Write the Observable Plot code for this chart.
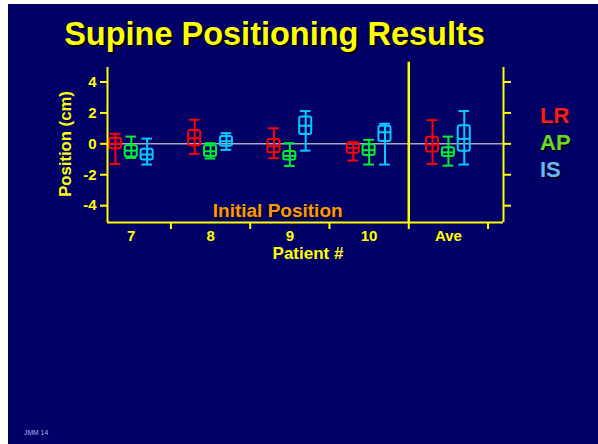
<!DOCTYPE html>
<html><head><meta charset="utf-8">
<script src="https://cdn.jsdelivr.net/npm/d3@7"></script>
<script src="https://cdn.jsdelivr.net/npm/@observablehq/plot@0.6"></script>
<style>
html,body{margin:0;padding:0;background:#fff;}
#page{position:relative;width:598px;height:444px;overflow:hidden;background:#fff;font-family:"Liberation Sans",Arial,sans-serif;}
#bg{position:absolute;left:8px;top:4px;right:0;bottom:0;background:#000066;}
#chart{position:absolute;left:0;top:0;}
.t{position:absolute;white-space:nowrap;line-height:1;font-weight:bold;}
#title{left:274.5px;top:17.5px;font-size:32.5px;color:#ffff00;transform:translateX(-50%);text-shadow:2px 2px 0 #000000;}
#initial{left:277.7px;top:201.4px;font-size:19px;color:#ff9900;transform:translateX(-50%);text-shadow:1.5px 1.5px 0 #000022;}
#xlabel{left:308px;top:244.9px;font-size:17px;color:#ffff00;transform:translateX(-50%);}
.leg{left:540px;font-size:22px;text-shadow:1.5px 1.5px 0 #000022;}
#jmm{left:24px;top:430.2px;font-size:6.8px;font-weight:normal;color:#aab0ee;}
</style></head><body>
<div id="page">
<div id="bg"></div>
<div id="chart"></div>
<div class="t" id="title">Supine Positioning Results</div>
<div class="t" id="initial">Initial Position</div>
<div class="t" id="xlabel">Patient #</div>
<div class="t leg" id="leg0"></div>
<div class="t leg" id="leg1"></div>
<div class="t leg" id="leg2"></div>
<div class="t" id="jmm">JMM 14</div>
</div>
<script>
// Categories and series
const patients = ["7", "8", "9", "10", "Ave"];
const series = ["LR", "AP", "IS"];
const seriesColors = ["#ff0000", "#00ee33", "#00ccff"];
const legendColors = ["#ff1a1a", "#66dd22", "#66bbee"];
const yTicks = [-4, -2, 0, 2, 4];

// [whisker low, Q1, median, Q3, whisker high] per patient, in cm
const LR = [
  [-1.30, -0.32, 0.02, 0.36, 0.65],
  [-0.65, -0.13, 0.36, 0.86, 1.56],
  [-0.93, -0.58, -0.15, 0.28, 1.01],
  [-1.08, -0.61, -0.26, 0.04, 0.10],
  [-1.30, -0.52, -0.05, 0.43, 1.53]
];
const AP = [
  [-0.91, -0.85, -0.44, -0.13, 0.47],
  [-0.95, -0.82, -0.48, -0.13, 0.04],
  [-1.43, -1.04, -0.78, -0.50, 0.04],
  [-1.34, -0.76, -0.41, -0.06, 0.26],
  [-1.41, -0.82, -0.55, -0.26, 0.47]
];
const IS = [
  [-1.34, -1.04, -0.69, -0.35, 0.34],
  [-0.39, -0.15, 0.17, 0.47, 0.69],
  [-0.44, 0.60, 1.17, 1.73, 2.12],
  [-1.34, 0.15, 0.75, 1.14, 1.30],
  [-1.34, -0.48, 0.32, 1.17, 2.12]
];

const rows = [];
[LR, AP, IS].forEach((arr, s) => arr.forEach((v, i) => rows.push({
  series: series[s], s, i, lo: v[0], q1: v[1], med: v[2], q3: v[3], hi: v[4]
})));

const off = d => d.i + (d.s - 1) * 0.2;
const bw = 0.076, cw = 0.0675;
const X0 = -0.3, X1 = 4.695, Y0 = -5.09, Y1 = 4.94;
const yellow = "#ffff00";

const chart = Plot.plot({
  width: 598, height: 444,
  marginLeft: 107, marginRight: 95, marginTop: 67, marginBottom: 222,
  x: {domain: [X0, X1], axis: null},
  y: {domain: [Y0, Y1], axis: null},
  color: {type: "ordinal", domain: series, range: seriesColors},
  style: {background: "transparent", color: yellow, fontFamily: "'Liberation Sans', Arial, sans-serif", overflow: "visible"},
  marks: [
    Plot.ruleY([0], {stroke: "#ffffdd", strokeWidth: 1}),
    Plot.ruleX(rows, {x: off, y1: "lo", y2: "hi", stroke: "series", strokeWidth: 2}),
    Plot.ruleY(rows, {y: "lo", x1: d => off(d) - cw, x2: d => off(d) + cw, stroke: "series", strokeWidth: 2}),
    Plot.ruleY(rows, {y: "hi", x1: d => off(d) - cw, x2: d => off(d) + cw, stroke: "series", strokeWidth: 2}),
    Plot.rect(rows, {x1: d => off(d) - bw, x2: d => off(d) + bw, y1: "q1", y2: "q3", stroke: "series", fill: "none", strokeWidth: 2, rx: 2}),
    Plot.ruleY(rows, {y: "med", x1: d => off(d) - bw, x2: d => off(d) + bw, stroke: "series", strokeWidth: 2}),
    Plot.axisY(yTicks, {tickSize: 7, tickPadding: 4, tickFormat: d => String(d), fontSize: 15, fontWeight: "bold", strokeWidth: 2, label: null, fill: yellow, stroke: yellow}),
    Plot.axisY(yTicks, {anchor: "right", tickSize: 7, tickFormat: () => "", strokeWidth: 2, label: null, stroke: yellow}),
    Plot.axisX([0.5, 1.5, 2.5, 3.5, 4.5], {tickSize: 7, tickFormat: () => "", strokeWidth: 2, label: null, stroke: yellow}),
    Plot.axisX([0, 1, 2, 3, 4], {tickSize: 0, tickPadding: 8, tickFormat: i => patients[i], fontSize: 15, fontWeight: "bold", label: null, fill: yellow}),
    Plot.ruleX([X0], {stroke: yellow, strokeWidth: 2}),
    Plot.ruleX([X1], {stroke: yellow, strokeWidth: 2}),
    Plot.ruleY([Y0], {stroke: yellow, strokeWidth: 2}),
    Plot.ruleX([3.5], {y1: Y0, y2: 5.28, stroke: yellow, strokeWidth: 2.5}),
    Plot.text(["Position (cm)"], {text: d => d, frameAnchor: "left", dx: -42, dy: -1, rotate: -90, fontSize: 16.7, fontWeight: "bold", fill: yellow, textAnchor: "middle", lineAnchor: "middle"})
  ]
});
document.getElementById("chart").appendChild(chart);

// Legend
const legTops = [104.7, 131.7, 158.7];
series.forEach((s, k) => {
  const el = document.getElementById("leg" + k);
  el.textContent = s;
  el.style.color = legendColors[k];
  el.style.top = legTops[k] + "px";
});
</script>
</body></html>
